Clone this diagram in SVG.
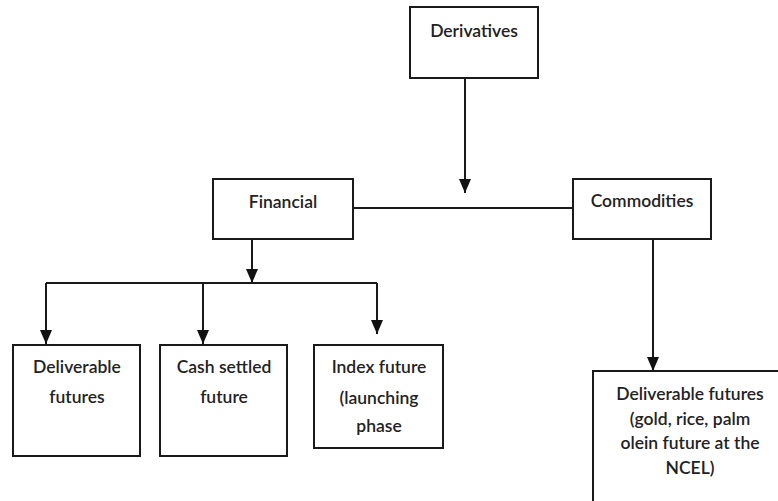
<svg xmlns="http://www.w3.org/2000/svg" width="778" height="501" viewBox="0 0 778 501">
<style>
.box{fill:#fff;stroke:#1a1a1a;stroke-width:2}
.ln{fill:none;stroke:#1a1a1a;stroke-width:2}
text{font-family:Lato,"Open Sans","Liberation Sans",sans-serif;font-size:17.5px;font-weight:600;fill:#222;text-anchor:middle}
</style>
<defs>
<marker id="ah" viewBox="0 0 14 12" refX="14" refY="6" markerWidth="14" markerHeight="12" markerUnits="userSpaceOnUse" orient="auto">
<path d="M0,0 L14,6 L0,12 Z" fill="#111"/>
</marker>
</defs>
<rect width="778" height="501" fill="#fff"/>
<g id="connectors">
<path class="ln" d="M465,78 V193" marker-end="url(#ah)"/>
<path class="ln" d="M353,208 H573"/>
<path class="ln" d="M252,239 V283" marker-end="url(#ah)"/>
<path class="ln" d="M46,283 H377"/>
<path class="ln" d="M46,283 V344" marker-end="url(#ah)"/>
<path class="ln" d="M203,283 V344" marker-end="url(#ah)"/>
<path class="ln" d="M377,283 V334" marker-end="url(#ah)"/>
<path class="ln" d="M653,239 V371" marker-end="url(#ah)"/>
</g>
<g id="n-derivatives"><rect class="box" x="410" y="7" width="128" height="71"/><text x="474" y="37">Derivatives</text></g>
<g id="n-financial"><rect class="box" x="213" y="179" width="140" height="60"/><text x="283" y="208">Financial</text></g>
<g id="n-commodities"><rect class="box" x="573" y="179" width="138" height="60"/><text x="642" y="207">Commodities</text></g>
<g id="n-deliverable"><rect class="box" x="13" y="345" width="127" height="111"/><text x="77" y="373">Deliverable</text><text x="77" y="403">futures</text></g>
<g id="n-cash"><rect class="box" x="160" y="345" width="127" height="111"/><text x="224" y="373">Cash settled</text><text x="224" y="403">future</text></g>
<g id="n-index"><rect class="box" x="314" y="345" width="129" height="103"/><text x="379" y="373">Index future</text><text x="379" y="404">(launching</text><text x="379" y="432">phase</text></g>
<g id="n-commdeliv"><rect class="box" x="593" y="371" width="200" height="140"/><text x="690" y="400">Deliverable futures</text><text x="690" y="425">(gold, rice, palm</text><text x="690" y="449">olein future at the</text><text x="690" y="474">NCEL)</text></g>
</svg>
